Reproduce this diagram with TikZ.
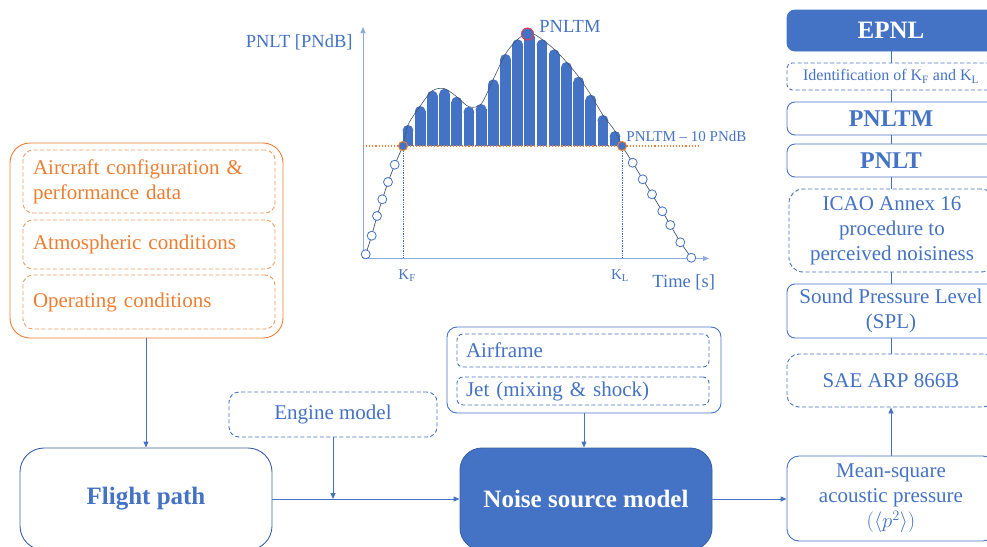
\documentclass[tikz,border=0pt]{standalone}
\usepackage{fontspec}
\setmainfont{Liberation Serif}
\usetikzlibrary{arrows.meta}
\definecolor{mblue}{HTML}{4472C4}
\definecolor{dblue}{HTML}{3B62A8}
\definecolor{lblue}{HTML}{8FAADC}
\definecolor{morange}{HTML}{ED7D31}
\definecolor{lorange}{HTML}{F19A5E}
\definecolor{curvec}{HTML}{44546A}
\definecolor{pkred}{HTML}{E8384F}
\begin{document}
\begin{tikzpicture}[x=1pt,y=-1pt,line width=0.9pt,
  txt/.style={font=\fontsize{21}{25}\selectfont,text=mblue},
  bold/.style={font=\fontsize{25}{29}\selectfont\bfseries},
  box/.style={draw=mblue,rounded corners=8pt,inner sep=0pt,align=center,txt},
  dbox/.style={box,dashed,dash pattern=on 4pt off 2.5pt},
  obox/.style={draw=lorange,dashed,dash pattern=on 4pt off 2.5pt,rounded corners=10pt,
    inner ysep=0pt,inner xsep=10pt,text width=232pt,align=left,
    font=\fontsize{21}{25}\selectfont,text=morange,minimum width=252pt},
  lbox/.style={draw=mblue,dashed,dash pattern=on 4pt off 2.5pt,rounded corners=6pt,
    inner ysep=0pt,inner xsep=9pt,text width=234pt,align=left,txt,minimum width=252pt},
  arr/.style={draw=mblue,-{Triangle[length=6pt,width=5pt]}},
  ln/.style={draw=mblue},
  hollow/.style={draw=mblue,fill=white,line width=0.8pt}
]
\useasboundingbox (0,0) rectangle (987,546);
\clip (0,0) rectangle (987,546);

% ---------- left: inputs ----------
\node[draw=morange,rounded corners=20pt,minimum width=273pt,minimum height=195pt,inner sep=0pt] (inputs) at (146.5,240.5) {};
\node[obox,minimum height=63pt] (acdata) at (149,181.5) {Aircraft configuration \&\\performance data};
\node[obox,minimum height=49pt] (atmos) at (149,244.5) {Atmospheric conditions};
\node[obox,minimum height=54pt] (oper) at (149,302) {Operating conditions};

\node[box,draw=dblue,rounded corners=24pt,minimum width=252pt,minimum height=102pt,bold,text=mblue] (flight) at (146,499) {Flight path};
\node[dbox,rounded corners=10pt,minimum width=208pt,minimum height=45pt] (engine) at (333,414.5) {Engine model};

% ---------- middle: noise sources ----------
\node[box,rounded corners=10pt,minimum width=274pt,minimum height=86pt] (sources) at (584,370) {};
\node[lbox,minimum height=33pt] (airframe) at (583,350.5) {Airframe};
\node[lbox,minimum height=28pt] (jet) at (583,391) {Jet (mixing \& shock)};
\node[box,fill=mblue,draw=dblue,rounded corners=22pt,minimum width=252pt,minimum height=102pt,bold,text=white] (noise) at (586,499) {Noise source model};

% ---------- right column ----------
\node[box,minimum width=208pt,minimum height=85pt,rounded corners=12pt] (mean) at (891,498.5) {Mean-square\\acoustic pressure\\$(\langle p^{2}\rangle)$};
\node[dbox,minimum width=208pt,minimum height=53pt,rounded corners=12pt] (sae) at (891,380.5) {SAE ARP 866B};
\node[box,minimum width=208pt,minimum height=54pt] (spl) at (891,311) {Sound Pressure Level\\(SPL)};
\node[dbox,minimum width=206pt,minimum height=83pt,rounded corners=14pt] (icao) at (892,230.5) {ICAO Annex 16\\procedure to\\perceived noisiness};
\node[box,minimum width=208pt,minimum height=33pt,bold,font=\fontsize{24}{28}\selectfont\bfseries] (pnlt) at (891,160.5) {PNLT};
\node[box,minimum width=208pt,minimum height=33pt,bold,font=\fontsize{24}{28}\selectfont\bfseries] (pnltm) at (891,118.5) {PNLTM};
\node[dbox,minimum width=208pt,minimum height=27pt,rounded corners=5pt,font=\fontsize{16}{19}\selectfont] (ident) at (891,76.5) {Identification of K\textsubscript{F} and K\textsubscript{L}};
\node[box,fill=mblue,minimum width=208pt,minimum height=41pt,bold,text=white] (epnl) at (891,30.5) {EPNL};

% ---------- connectors ----------
\draw[arr] (inputs.south -| flight.north) -- (flight.north);
\draw[arr] (flight.east) -- (noise.west);
\coordinate (join) at (engine.south |- flight.east);
\draw[arr] (engine.south) -- (join);
\draw[arr] (sources.south) -- (sources.south |- noise.north);
\draw[arr] (noise.east) -- (noise.east -| mean.west);
\draw[arr] (mean.north) -- (sae.south);
\draw[ln] (sae.north) -- (spl.south);
\draw[ln] (spl.north) -- (spl.north |- icao.south);
\draw[ln] (spl.north |- icao.north) -- (pnlt.south);
\draw[ln] (pnlt.north) -- (pnltm.south);
\draw[ln] (pnltm.north) -- (ident.south);
\draw[ln] (ident.north) -- (epnl.south);

% ---------- chart ----------
\draw[lblue,line width=1pt,-{Triangle[length=6pt,width=5pt]}] (363,258.5) -- (363,27);
\draw[lblue,line width=1pt,-{Triangle[length=6pt,width=5pt]}] (363,258.5) -- (709,258.5);
\draw[mblue,densely dotted,line width=0.7pt] (403,146) -- (403,258);
\draw[mblue,densely dotted,line width=0.7pt] (622,146) -- (622,258);
\foreach \x/\t in {408/125,420.2/106,432.4/90.7,444.5/88.7,456.7/96.7,468.9/106.7,481.1/104,493.3/79.3,505.5/54,517.6/39.3,529.8/32.7,542/39.3,554.2/49.3,566.4/62,578.6/76.7,590.7/94.7,602.9/115,615/131}{
  \fill[mblue] (\x-5.4,146) rectangle (\x+5.4,\t+5.4);
  \fill[mblue] (\x,\t+5.4) circle[radius=5.4pt];
}
\draw[morange,dotted,line width=1.1pt] (363,146) -- (700,146);
\draw[curvec,line width=0.6pt] plot[smooth,tension=0.5] coordinates {(403,146) (408,125) (420.2,106) (432.4,90.7) (444.5,88.7) (456.7,96.7) (468.9,106.7) (481.1,104) (493.3,79.3) (505.5,54) (517.6,39.3) (529.8,32.7) (542,39.3) (554.2,49.3) (566.4,62) (578.6,76.7) (590.7,94.7) (602.9,115) (615,131) (622,146)};
\draw[curvec,line width=0.7pt] (365.7,254.3) -- (371.7,235.7) -- (377,216) -- (382.3,199.3) -- (388,182) -- (394.7,164.7) -- (403,146);
\draw[curvec,line width=0.7pt] (622,146) -- (632.7,162.7) -- (642.7,179.3) -- (652,194.3) -- (662.3,211.3) -- (670.3,225) -- (680.3,242.3) -- (691.3,257.7);
\foreach \p in {(365.7,254.3),(371.7,235.7),(377,216),(382.3,199.3),(388,182),(394.7,164.7),(632.7,162.7),(642.7,179.3),(652,194.3),(662.3,211.3),(670.3,225),(680.3,242.3),(691.3,257.7)}{
  \filldraw[hollow] \p circle[radius=4.5pt];
}
\filldraw[fill=mblue,draw=morange,line width=1pt] (403,146) circle[radius=4.5pt];
\filldraw[fill=mblue,draw=morange,line width=1pt] (622,146) circle[radius=4.5pt];
\filldraw[fill=mblue,draw=pkred,line width=1pt] (527.5,34) circle[radius=6pt];

\node[txt,font=\fontsize{18.5}{22}\selectfont,anchor=east,inner sep=0pt] (ylab) at (353,42) {PNLT [PNdB]};
\node[txt,font=\fontsize{18.5}{22}\selectfont,anchor=west,inner sep=0pt] (xlab) at (652,282) {Time [s]};
\node[txt,font=\fontsize{18.5}{22}\selectfont,anchor=west,inner sep=0pt] (pklab) at (539,26) {PNLTM};
\node[txt,font=\fontsize{15}{18}\selectfont,anchor=west,inner sep=0pt] (thr) at (626,136) {PNLTM -- 10 PNdB};
\node[txt,font=\fontsize{15}{18}\selectfont,inner sep=0pt] (kf) at (407,276) {K\textsubscript{F}};
\node[txt,font=\fontsize{15}{18}\selectfont,inner sep=0pt] (kl) at (620,276) {K\textsubscript{L}};
\end{tikzpicture}
\end{document}
